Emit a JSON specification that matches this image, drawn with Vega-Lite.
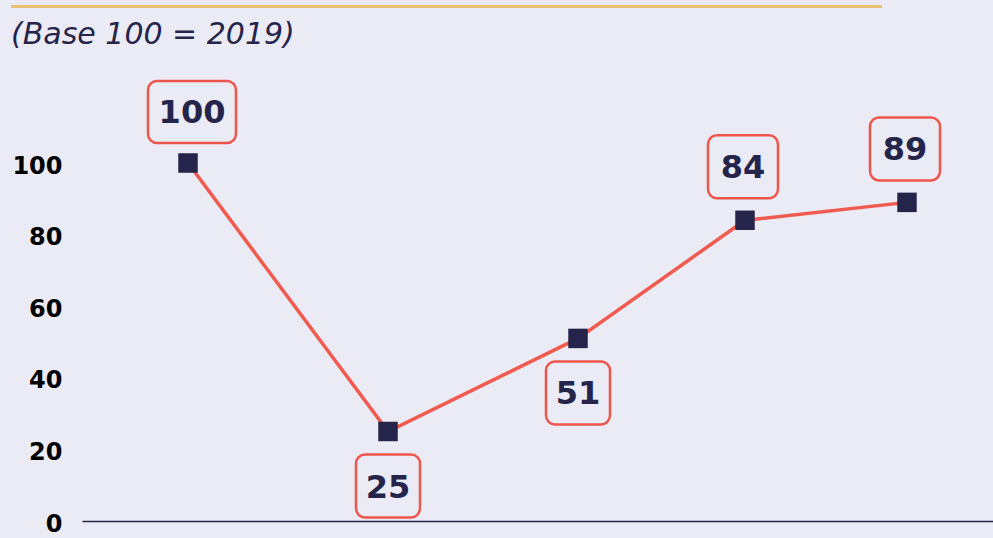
{
  "$schema": "https://vega.github.io/schema/vega-lite/v6.json",
  "width": 911,
  "height": 358,
  "autosize": {"type": "none"},
  "padding": {"left": 82, "top": 163, "right": 0, "bottom": 17},
  "background": "#EBEBF5",
  "config": {
    "view": {"stroke": null},
    "font": "DejaVu Sans"
  },
  "title": {
    "text": "(Base 100 = 2019)",
    "anchor": "start",
    "frame": "group",
    "orient": "top",
    "dx": -71,
    "offset": 0,
    "dy": 44,
    "font": "DejaVu Sans",
    "fontSize": 30,
    "fontStyle": "italic",
    "fontWeight": "normal",
    "color": "#25244A"
  },
  "data": {
    "values": [
      {"t": 0, "value": 100},
      {"t": 2.0, "value": 25},
      {"t": 3.9, "value": 51},
      {"t": 5.57, "value": 84},
      {"t": 7.19, "value": 89}
    ]
  },
  "layer": [
    {
      "mark": {"type": "rule", "color": "#E8C170", "strokeWidth": 2, "clip": false},
      "encoding": {
        "x": {"datum": -1.77, "type": "quantitative"},
        "x2": {"datum": 6.94},
        "y": {"datum": 143.7, "type": "quantitative"}
      }
    },
    {
      "mark": {"type": "line", "color": "#F15A4F", "strokeWidth": 3.5},
      "encoding": {
        "x": {
          "field": "t", "type": "quantitative",
          "scale": {"domain": [-1.06, 8.05], "nice": false, "zero": false},
          "axis": {"labels": false, "ticks": false, "grid": false, "title": null, "domain": true, "domainColor": "#25244A", "domainWidth": 1.5}
        },
        "y": {
          "field": "value", "type": "quantitative",
          "scale": {"domain": [0, 100], "nice": false},
          "axis": {
            "values": [0, 20, 40, 60, 80, 100],
            "title": null, "ticks": false, "domain": false,
            "gridColor": "#FFFFFF", "gridWidth": 2.5,
            "labelFont": "DejaVu Sans", "labelFontSize": 24, "labelFontWeight": "bold",
            "labelColor": "#000000", "labelPadding": 20, "labelOffset": 3
          }
        }
      }
    },
    {
      "mark": {"type": "point", "shape": "square", "filled": true, "size": 380, "color": "#25244A", "opacity": 1},
      "encoding": {
        "x": {"field": "t", "type": "quantitative"},
        "y": {"field": "value", "type": "quantitative"}
      }
    },
    {
      "transform": [{"filter": "datum.value >= 100"}],
      "mark": {
        "type": "point", "size": 4, "filled": false, "opacity": 1,
        "fill": "#EBEBF5", "fillOpacity": 1, "stroke": "#F0554C", "strokeWidth": 2.5,
        "shape": "M-31,-82 H39 A9,9 0 0 1 48,-73 V-29 A9,9 0 0 1 39,-20 H-31 A9,9 0 0 1 -40,-29 V-73 A9,9 0 0 1 -31,-82 Z"
      },
      "encoding": {
        "x": {"field": "t", "type": "quantitative"},
        "y": {"field": "value", "type": "quantitative"}
      }
    },
    {
      "transform": [{"filter": "datum.value < 100 && datum.value >= 60"}],
      "mark": {
        "type": "point", "size": 4, "filled": false, "opacity": 1,
        "fill": "#EBEBF5", "fillOpacity": 1, "stroke": "#F0554C", "strokeWidth": 2.5,
        "shape": "M-28,-85 H24 A9,9 0 0 1 33,-76 V-31 A9,9 0 0 1 24,-22 H-28 A9,9 0 0 1 -37,-31 V-76 A9,9 0 0 1 -28,-85 Z"
      },
      "encoding": {
        "x": {"field": "t", "type": "quantitative"},
        "y": {"field": "value", "type": "quantitative"}
      }
    },
    {
      "transform": [{"filter": "datum.value < 60"}],
      "mark": {
        "type": "point", "size": 4, "filled": false, "opacity": 1,
        "fill": "#EBEBF5", "fillOpacity": 1, "stroke": "#F0554C", "strokeWidth": 2.5,
        "shape": "M-23,23 H23 A9,9 0 0 1 32,32 V77 A9,9 0 0 1 23,86 H-23 A9,9 0 0 1 -32,77 V32 A9,9 0 0 1 -23,23 Z"
      },
      "encoding": {
        "x": {"field": "t", "type": "quantitative"},
        "y": {"field": "value", "type": "quantitative"}
      }
    },
    {
      "transform": [{"filter": "datum.value >= 100"}],
      "mark": {"type": "text", "font": "DejaVu Sans", "fontSize": 32, "fontWeight": "bold", "color": "#25244A", "baseline": "middle", "align": "center", "dy": -50, "dx": 4},
      "encoding": {
        "x": {"field": "t", "type": "quantitative"},
        "y": {"field": "value", "type": "quantitative"},
        "text": {"field": "value", "type": "quantitative"}
      }
    },
    {
      "transform": [{"filter": "datum.value < 100 && datum.value >= 60"}],
      "mark": {"type": "text", "font": "DejaVu Sans", "fontSize": 32, "fontWeight": "bold", "color": "#25244A", "baseline": "middle", "align": "center", "dy": -52, "dx": -2},
      "encoding": {
        "x": {"field": "t", "type": "quantitative"},
        "y": {"field": "value", "type": "quantitative"},
        "text": {"field": "value", "type": "quantitative"}
      }
    },
    {
      "transform": [{"filter": "datum.value < 60"}],
      "mark": {"type": "text", "font": "DejaVu Sans", "fontSize": 32, "fontWeight": "bold", "color": "#25244A", "baseline": "middle", "align": "center", "dy": 56},
      "encoding": {
        "x": {"field": "t", "type": "quantitative"},
        "y": {"field": "value", "type": "quantitative"},
        "text": {"field": "value", "type": "quantitative"}
      }
    }
  ]
}
